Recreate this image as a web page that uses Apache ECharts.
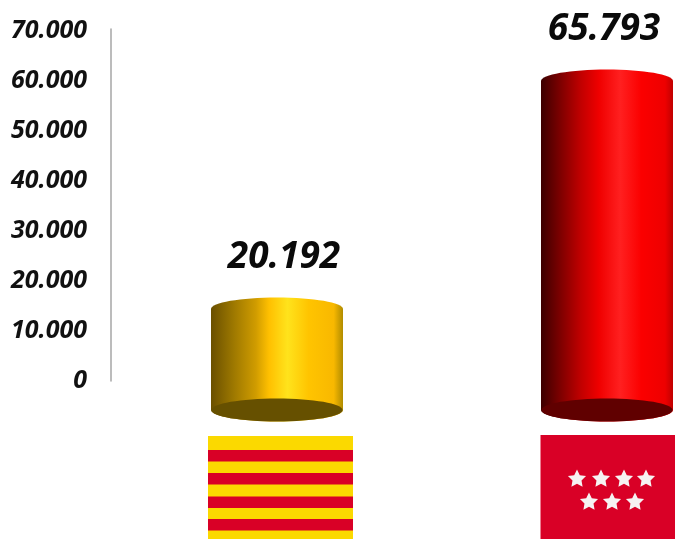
<!DOCTYPE html>
<html><head><meta charset="utf-8">
<style>html,body{margin:0;padding:0;background:#fff}#c{width:675px;height:539px}</style>
<script src="https://cdn.jsdelivr.net/npm/echarts@6/dist/echarts.min.js"></script>
</head><body><div id="c"></div>
<script>
const categories = ['Cataluña', 'Madrid'];
const values = [20192, 65793];
const axisTicks = [0, 10000, 20000, 30000, 40000, 50000, 60000, 70000];
const labelShift = [7, -3];
const sideGradients = [
  [[0,'#6a5000'],[0.18,'#a07a00'],[0.34,'#d09c00'],[0.44,'#ffc000'],[0.58,'#ffe31c'],[0.74,'#ffc400'],[0.93,'#f8b800'],[1,'#b08c00']],
  [[0,'#3c0000'],[0.14,'#7a0000'],[0.3,'#c00000'],[0.44,'#f00000'],[0.6,'#ff2020'],[0.76,'#fb0000'],[0.94,'#ee0000'],[1,'#c00000']]
];
const baseColors = ['#665000', '#600000'];

const fmt = v => String(v).replace(/\B(?=(\d{3})+(?!\d))/g, '.');
const FONT = '"Open Sans"';

function starPoints(cx, cy, r) {
  const pts = [];
  for (let i = 0; i < 10; i++) {
    const rad = i % 2 ? r * 0.5 : r;
    const a = -Math.PI / 2 + i * Math.PI / 5;
    pts.push([cx + rad * Math.cos(a), cy + rad * Math.sin(a)]);
  }
  return pts;
}
const flagGraphics = [
  {type:'rect', shape:{x:208,y:436,width:145,height:103}, style:{fill:'#fbd900'}},
  ...[[450,11.5],[473,11.5],[496.5,11.5],[519,11.5]].map(s => (
    {type:'rect', shape:{x:208,y:s[0],width:145,height:s[1]}, style:{fill:'#d90026'}})),
  {type:'rect', shape:{x:540.5,y:435,width:135,height:104}, style:{fill:'#d90026'}},
  ...[[577,479],[601,479],[624,479],[646,479],[589,502],[612,502],[635,502]].map(p => (
    {type:'polygon', shape:{points:starPoints(p[0],p[1],9.5)}, style:{fill:'#f6f2f2'}}))
];

function renderCylinder(params, api) {
  const i = api.value(0);
  const v = api.value(1);
  const top = api.coord([i, v]);
  const base = api.coord([i, 0]);
  const rx = api.size([1, 0])[0] * 0.2;
  const ry = 11.5;
  const cx = top[0], l = cx - rx, r = cx + rx;
  const k = 0.5523;
  const path =
    `M${l} ${top[1]}` +
    `C${l} ${top[1]-ry*k} ${cx-rx*k} ${top[1]-ry} ${cx} ${top[1]-ry}` +
    `C${cx+rx*k} ${top[1]-ry} ${r} ${top[1]-ry*k} ${r} ${top[1]}` +
    `L${r} ${base[1]}` +
    `C${r} ${base[1]+ry*k} ${cx+rx*k} ${base[1]+ry} ${cx} ${base[1]+ry}` +
    `C${cx-rx*k} ${base[1]+ry} ${l} ${base[1]+ry*k} ${l} ${base[1]}Z`;
  return {
    type: 'group',
    children: [
      {
        type: 'path',
        shape: {pathData: path, layout: 'cover', x: l, y: top[1]-ry, width: 2*rx, height: base[1]-top[1]+2*ry},
        style: {fill: {type:'linear', x:0, y:0, x2:1, y2:0,
          colorStops: sideGradients[i].map(s => ({offset:s[0], color:s[1]}))}}
      },
      {
        type: 'ellipse',
        shape: {cx: cx, cy: base[1], rx: rx-0.5, ry: ry},
        style: {fill: baseColors[i]}
      },
      {
        type: 'text',
        style: {
          x: cx + labelShift[i], y: top[1]-52,
          text: fmt(v), align: 'center', verticalAlign: 'middle',
          font: `italic 700 37px ${FONT}`, fill: '#0a0a0a'
        }
      }
    ]
  };
}

const chart = echarts.init(document.getElementById('c'), null, {renderer:'canvas'});
chart.setOption({
  animation: false,
  backgroundColor: '#fff',
  graphic: flagGraphics,
  grid: [
    {left: 112, top: 60, width: 660, height: 350, outerBoundsMode:'none'},
    {left: 111, top: 29, width: 1, height: 352, outerBoundsMode:'none'}
  ],
  xAxis: [
    {type:'category', gridIndex:0, data:categories, show:false},
    {type:'value', gridIndex:1, show:false}
  ],
  yAxis: [
    {type:'value', gridIndex:0, min:0, max:70000, show:false},
    {type:'value', gridIndex:1, min:0, max:70400, interval:10000,
     axisLine:{show:true, lineStyle:{color:'#a6a6a6', width:1.5}},
     axisTick:{show:false}, splitLine:{show:false},
     axisLabel:{
       showMaxLabel:false, margin:24, color:'#111', padding:[3,0,0,0],
       fontFamily:FONT, fontStyle:'italic', fontWeight:700, fontSize:25,
       formatter: v => axisTicks.includes(v) ? fmt(v) : ''
     }}
  ],
  series: [{
    type:'custom', xAxisIndex:0, yAxisIndex:0,
    renderItem: renderCylinder,
    encode:{x:0, y:1},
    data: values.map((v,i) => [i, v])
  }]
});
</script></body></html>
